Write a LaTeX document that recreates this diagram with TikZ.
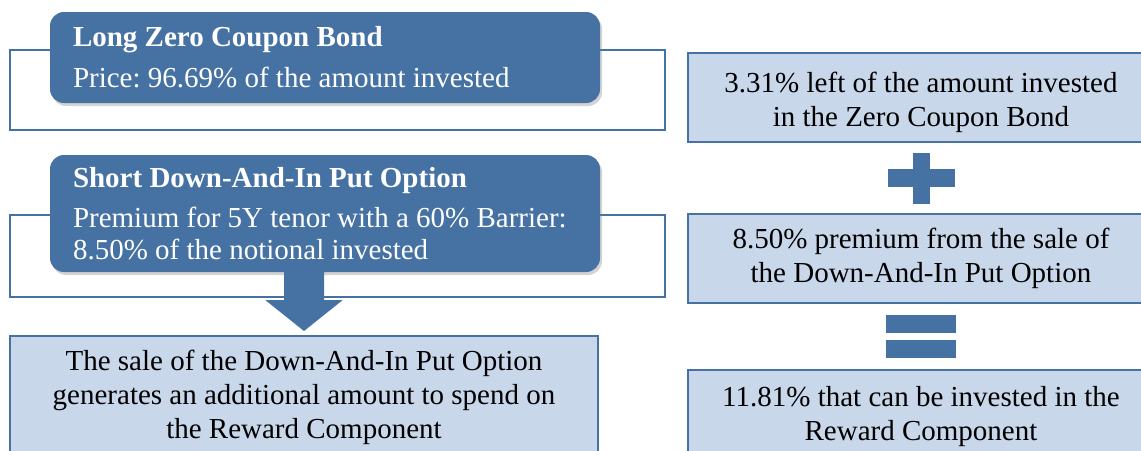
\documentclass[tikz,border=0pt]{standalone}
\usepackage{fontspec}
\setmainfont{Liberation Serif}
\usetikzlibrary{positioning,shadows,calc}
\definecolor{darkblue}{HTML}{4672A3}
\definecolor{lightblue}{HTML}{C9D7EB}
\frenchspacing

\begin{document}
\begin{tikzpicture}[x=1pt,y=-1pt,font=\fontsize{29}{34}\selectfont,
  frame box/.style={draw=darkblue, line width=2pt, minimum width=655pt, minimum height=80pt},
  head box/.style={fill=darkblue, rounded corners=14pt, text=white, align=flush left, text width=504pt,
    inner sep=0pt, inner xsep=23pt, drop shadow={opacity=0.35, shadow xshift=2pt, shadow yshift=-3pt}},
  sum box/.style={draw=darkblue, line width=2pt, fill=lightblue, align=center, minimum width=466pt,
    minimum height=89pt, inner sep=0pt},
  bar/.style={fill=darkblue}]
  \useasboundingbox (0,0) rectangle (1141,450);
  \clip (0,0) rectangle (1141,450);

  % left column: bond and option legs
  \node[frame box] (zcbframe) at (337.5,90) {};
  \node[head box, minimum height=91pt] (zcb) at (325,57.5)
    {\textbf{Long Zero Coupon Bond}\\[7pt]Price: 96.69\% of the amount invested};
  \node[frame box, minimum height=82pt] (putframe) at (337.5,256) {};
  \node[head box, minimum height=117pt] (put) at (325,213.5)
    {\textbf{Short Down-And-In Put Option}\\[6pt]Premium for 5Y tenor with a 60\% Barrier:\\[-2pt]8.50\% of the notional invested};
  \node[sum box, minimum width=588pt, minimum height=122pt] (extra) at (304,397)
    {The sale of the Down-And-In Put Option\\generates an additional amount to spend on\\the Reward Component};

  % block arrow down to the result
  \coordinate (a) at (put.south -| extra.north);
  \coordinate (tip) at ($(extra.north)+(0,-4)$);
  \fill[darkblue] ($(a)+(-20,0)$) -- ($(a)+(-20,28)$) -- ($(a)+(-38.5,28)$) -- (tip)
    -- ($(a)+(38.5,28)$) -- ($(a)+(20,28)$) -- ($(a)+(20,0)$) -- cycle;

  % right column: the sum
  \node[sum box] (left) at (921,97.5) {\rule{0pt}{31pt}3.31\% left of the amount invested\\in the Zero Coupon Bond};
  \node[sum box, below=70pt of left] (prem) {8.50\% premium from the sale of\\the Down-And-In Put Option};
  \node[sum box, minimum height=94pt, below=65pt of prem] (total) {11.81\% that can be invested in the\\Reward Component};

  % plus sign
  \coordinate (plus) at ($(left.south)!0.5!(prem.north)$);
  \fill[bar] ($(plus)+(-8.5,-25.5)$) rectangle ($(plus)+(8.5,25.5)$);
  \fill[bar] ($(plus)+(-33.5,-9)$) rectangle ($(plus)+(33.5,9)$);
  % equals sign
  \coordinate (equal) at ($(prem.south)!0.5!(total.north)$);
  \fill[bar] ($(equal)+(-35,-21.5)$) rectangle ($(equal)+(35,-3.5)$);
  \fill[bar] ($(equal)+(-35,3.5)$) rectangle ($(equal)+(35,21.5)$);
\end{tikzpicture}
\end{document}
